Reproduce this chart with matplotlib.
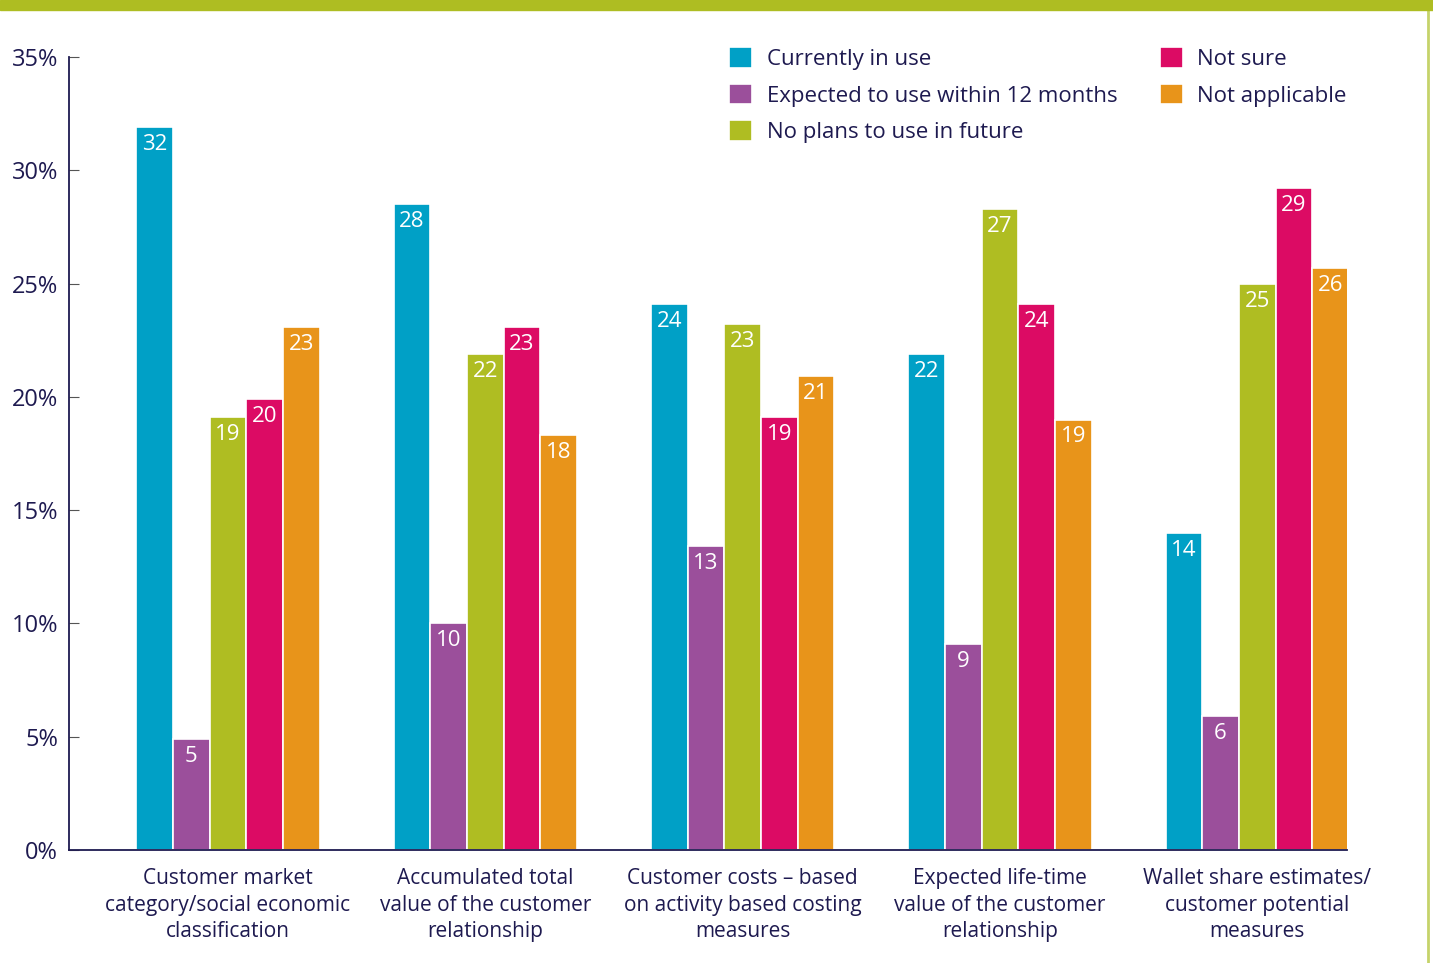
import matplotlib
matplotlib.use("Agg")
import matplotlib.pyplot as plt
from matplotlib.patches import Rectangle
from matplotlib.lines import Line2D
import numpy as np

categories = [
    "Customer market\ncategory/social economic\nclassification",
    "Accumulated total\nvalue of the customer\nrelationship",
    "Customer costs \u2013 based\non activity based costing\nmeasures",
    "Expected life-time\nvalue of the customer\nrelationship",
    "Wallet share estimates/\ncustomer potential\nmeasures",
]
series_names = ["Currently in use", "Expected to use within 12 months",
                "No plans to use in future", "Not sure", "Not applicable"]
currently_in_use = [31.9, 28.5, 24.1, 21.9, 14.0]
expected_12_months = [4.9, 10.0, 13.4, 9.1, 5.9]
no_plans = [19.1, 21.9, 23.2, 28.3, 25.0]
not_sure = [19.9, 23.1, 19.1, 24.1, 29.2]
not_applicable = [23.1, 18.3, 20.9, 19.0, 25.7]
labels_currently = [32, 28, 24, 22, 14]
labels_expected = [5, 10, 13, 9, 6]
labels_noplans = [19, 22, 23, 27, 25]
labels_notsure = [20, 23, 19, 24, 29]
labels_notapp = [23, 18, 21, 19, 26]
yticks = [0, 5, 10, 15, 20, 25, 30, 35]

series = [currently_in_use, expected_12_months, no_plans, not_sure, not_applicable]
labels = [labels_currently, labels_expected, labels_noplans, labels_notsure, labels_notapp]
colors = ["#00a0c6", "#9b4f9b", "#afbd22", "#dc0b64", "#e8941a"]
text_color = "#1e1a50"

plt.rcParams['font.family'] = ['Open Sans', 'DejaVu Sans']

fig = plt.figure(figsize=(14.33, 9.63), dpi=100)
ax = fig.add_axes([69/1433, 1 - 850/963, (1347-69)/1433, (850-57)/963])

x = np.arange(len(categories))
w = 0.1425
for i, (vals, labs, c) in enumerate(zip(series, labels, colors)):
    pos = x + (i - 2) * w
    ax.bar(pos, vals, width=w, color=c, edgecolor="white", linewidth=1.2,
           label=series_names[i])
    for p, v, l in zip(pos, vals, labs):
        ax.annotate(str(l), (p, v), xytext=(0, -5), textcoords="offset points",
                    ha="center", va="top", color="white", fontsize=16)

ax.set_xlim(-0.618, 4.349)
ax.set_ylim(0, 35)
ax.set_yticks(yticks)
ax.set_yticklabels([f"{t}%" for t in yticks], fontsize=17, color=text_color)
ax.set_xticks(x)
ax.set_xticklabels(categories, fontsize=15, color=text_color, linespacing=1.35)
ax.tick_params(axis="x", length=0, pad=13)
ax.tick_params(axis="y", direction="in", length=7, color="#555555", pad=8)
for s in ["top", "right"]:
    ax.spines[s].set_visible(False)
ax.spines["left"].set_color(text_color)
ax.spines["bottom"].set_color(text_color)
ax.spines["left"].set_linewidth(1.3)
ax.spines["bottom"].set_linewidth(1.3)

handles, hl = ax.get_legend_handles_labels()
leg = fig.legend(handles, hl, ncol=2, loc="upper left",
                 bbox_to_anchor=(709/1433, 1 - 27/963), frameon=False,
                 fontsize=16, handlelength=1.05, handleheight=1.05,
                 handletextpad=0.65, columnspacing=1.9, labelspacing=0.62,
                 labelcolor=text_color)

# decorative frame
fig.patches.append(Rectangle((0, 1 - 10/963), 1, 10/963, transform=fig.transFigure,
                             color="#aebd22", zorder=10))
fig.lines.append(Line2D([1428/1433, 1428/1433], [0, 1], transform=fig.transFigure,
                        color="#c5d36a", linewidth=2))

fig.savefig("out.png", dpi=100, facecolor="white")
